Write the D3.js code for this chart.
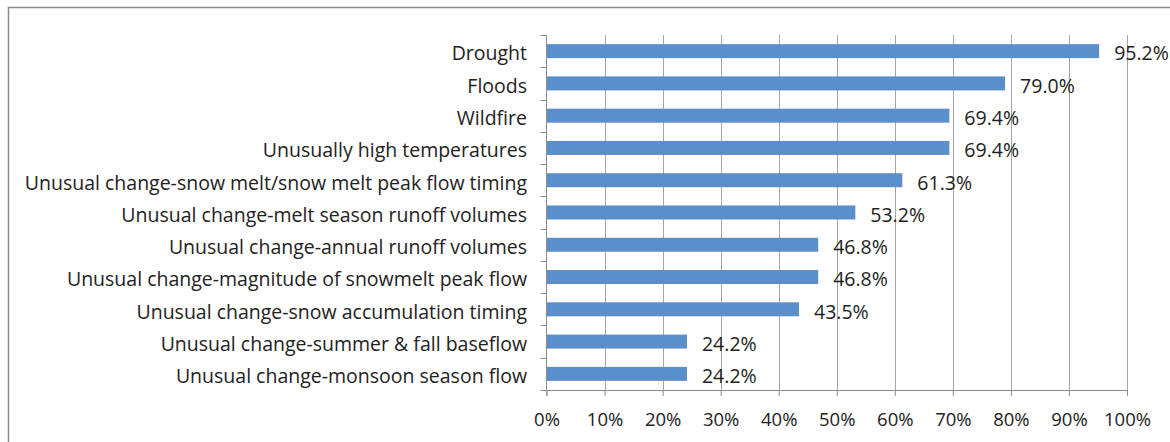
<!DOCTYPE html>
<html>
<head>
<meta charset="utf-8">
<script src="https://cdn.jsdelivr.net/npm/d3@7"></script>
<style>
  html, body { margin: 0; padding: 0; background: #fff; }
  svg { display: block; }
  text { font-family: "Open Sans", "Liberation Sans", sans-serif; fill: #222; }
</style>
</head>
<body>
<svg id="chart" width="1170" height="442"></svg>
<script>
// Survey responses: share of respondents reporting each impact
const categories = [
  "Drought",
  "Floods",
  "Wildfire",
  "Unusually high temperatures",
  "Unusual change-snow melt/snow melt peak flow timing",
  "Unusual change-melt season runoff volumes",
  "Unusual change-annual runoff volumes",
  "Unusual change-magnitude of snowmelt peak flow",
  "Unusual change-snow accumulation timing",
  "Unusual change-summer & fall baseflow",
  "Unusual change-monsoon season flow"
];
const values = [95.2, 79.0, 69.4, 69.4, 61.3, 53.2, 46.8, 46.8, 43.5, 24.2, 24.2];
const tickValues = [0, 10, 20, 30, 40, 50, 60, 70, 80, 90, 100];

const svg = d3.select("#chart");
const plotLeft = 546.5, plotRight = 1127, plotTop = 35, plotBottom = 390;

// outer chart frame
svg.append("rect")
  .attr("x", 8.5).attr("y", 7.5)
  .attr("width", 1170).attr("height", 450)
  .attr("fill", "none").attr("stroke", "#8c8c8c").attr("stroke-width", 1.5);

const x = d3.scaleLinear().domain([0, 100]).range([plotLeft, plotRight]);
const band = d3.scaleBand().domain(categories).range([plotTop, plotBottom]);

// vertical gridlines
svg.append("g").selectAll("line")
  .data(tickValues.slice(1))
  .join("line")
  .attr("x1", d => Math.round(x(d)) + 0.5).attr("x2", d => Math.round(x(d)) + 0.5)
  .attr("y1", plotTop).attr("y2", plotBottom)
  .attr("stroke", "#a6a6a6").attr("stroke-width", 1);

// bars
svg.append("g").selectAll("rect")
  .data(categories)
  .join("rect")
  .attr("x", x(0))
  .attr("y", d => band(d) + band.bandwidth() / 2 - 7)
  .attr("height", 14)
  .attr("width", (d, i) => x(values[i]) - x(0))
  .attr("fill", "#5b8fcb");

// value labels
svg.append("g").selectAll("text")
  .data(categories)
  .join("text")
  .attr("x", (d, i) => x(values[i]) + 15)
  .attr("y", d => band(d) + band.bandwidth() / 2)
  .attr("dy", "0.48em")
  .attr("font-size", 19.5)
  .text((d, i) => values[i].toFixed(1) + "%");

// bottom axis
const xAxis = d3.axisBottom(x)
  .tickValues(tickValues)
  .tickSize(6)
  .tickPadding(17)
  .tickFormat(d => d + "%");
const gx = svg.append("g").attr("transform", `translate(0,${plotBottom})`).call(xAxis);
gx.select(".domain").attr("stroke", "#8c8c8c");
gx.selectAll(".tick line").attr("stroke", "#8c8c8c");
gx.selectAll(".tick text").attr("font-size", 18.5).attr("fill", "#222")
  .attr("font-family", "'Open Sans', 'Liberation Sans', sans-serif");

// left category axis with ticks at band boundaries
const gy = svg.append("g");
gy.append("line")
  .attr("x1", plotLeft).attr("x2", plotLeft).attr("y1", plotTop).attr("y2", plotBottom)
  .attr("stroke", "#8c8c8c");
gy.selectAll("line.bt")
  .data(categories.concat(["__end"]))
  .join("line").attr("class", "bt")
  .attr("x1", plotLeft - 6).attr("x2", plotLeft)
  .attr("y1", (d, i) => Math.round(plotTop + i * band.step()) + 0.5)
  .attr("y2", (d, i) => Math.round(plotTop + i * band.step()) + 0.5)
  .attr("stroke", "#8c8c8c");
gy.selectAll("text")
  .data(categories)
  .join("text")
  .attr("x", 527)
  .attr("y", d => band(d) + band.bandwidth() / 2)
  .attr("dy", "0.48em")
  .attr("text-anchor", "end")
  .attr("font-size", 19.5)
  .text(d => d);
</script>
</body>
</html>
